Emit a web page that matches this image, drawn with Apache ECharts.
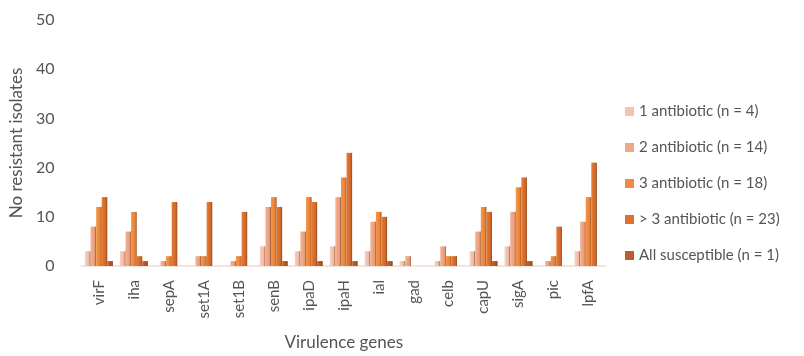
<!DOCTYPE html>
<html><head><meta charset="utf-8">
<script src="https://cdn.jsdelivr.net/npm/echarts@6/dist/echarts.min.js"></script>
<style>html,body{margin:0;padding:0;background:#fff}#c{width:804px;height:356px}</style>
</head><body><div id="c"></div>
<script>
const categories = ['virF','iha','sepA','set1A','set1B','senB','ipaD','ipaH','ial','gad','celb','capU','sigA','pic','lpfA'];
const seriesNames = ['1 antibiotic (n = 4)','2 antibiotic (n = 14)','3 antibiotic (n = 18)','> 3 antibiotic (n = 23)','All susceptible (n = 1)'];
const ab1 = [3,3,0,0,0,4,3,4,3,1,1,3,4,0,3];
const ab2 = [8,7,1,2,1,12,7,14,9,2,4,7,11,1,9];
const ab3 = [12,11,2,2,2,14,14,18,11,0,2,12,16,2,14];
const ab4 = [14,2,13,13,11,12,13,23,10,0,2,11,18,8,21];
const allSus = [1,1,0,0,0,1,1,1,1,0,0,1,1,0,0];
const yTicks = [0,10,20,30,40,50];

const colors = [['#f6d2c3','#eeb7a2'],['#f3b495','#e99a78'],['#f5984d','#e77f33'],['#e67d3b','#cf6524'],['#c46a35','#a3501f']];
const legendColors = ['#f2c4b2','#eea888','#f08a3c','#dc7030','#b85d2c'];
const data = [ab1,ab2,ab3,ab4,allSus];
const chart = echarts.init(document.getElementById('c'));
chart.setOption({
  animation:false,
  textStyle:{fontFamily:'Lato, "Open Sans", sans-serif'},
  grid:{left:75,right:198,top:20,bottom:87},
  legend:{orient:'vertical',left:620,top:99,itemWidth:9,itemHeight:9,itemGap:21,icon:'rect',
    textStyle:{fontSize:15,color:'#555555',fontFamily:'Lato, sans-serif'},
    data:seriesNames.map((n,i)=>({name:n,itemStyle:{color:legendColors[i]}}))},
  xAxis:{type:'category',data:categories,
    axisLine:{show:true,lineStyle:{color:'#f3e4dc',width:2}},axisTick:{show:false},
    axisLabel:{rotate:90,fontSize:15,color:'#555555',margin:14,interval:0},
    name:'Virulence genes',nameLocation:'middle',nameGap:68,
    nameTextStyle:{fontSize:17,color:'#555555'}},
  yAxis:{type:'value',min:0,max:50,interval:10,
    axisLine:{show:false},axisTick:{show:false},splitLine:{show:false},
    axisLabel:{fontSize:16,color:'#555555',margin:27,formatter:v=>yTicks.includes(v)?String(v):''},
    name:'No resistant isolates',nameLocation:'middle',nameGap:55,
    nameTextStyle:{fontSize:17,color:'#555555'}},
  series:seriesNames.map((n,i)=>({name:n,type:'bar',data:data[i],barGap:'0%',barCategoryGap:'20%',
    itemStyle:{color:new echarts.graphic.LinearGradient(0,0,1,0,[{offset:0,color:colors[i][0]},{offset:0.75,color:colors[i][1]},{offset:1,color:'#8a4a22'}])}}))
});
</script></body></html>
